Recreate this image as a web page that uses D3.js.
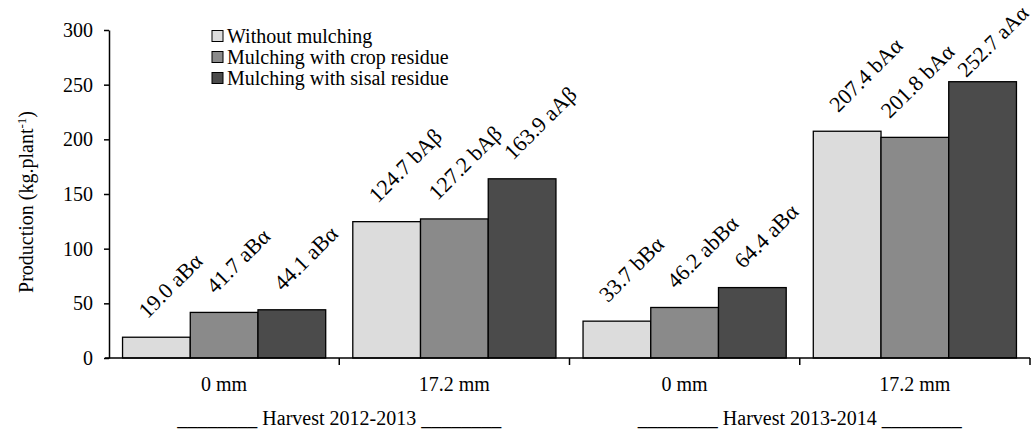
<!DOCTYPE html>
<html>
<head>
<meta charset="utf-8">
<script src="https://cdn.jsdelivr.net/npm/d3@7/dist/d3.min.js"></script>
<style>
  html, body { margin: 0; padding: 0; background: #fff; }
  svg { display: block; }
  text { font-family: "Liberation Serif", "Times New Roman", serif; fill: #000; }
</style>
</head>
<body>
<svg id="chart" width="1035" height="433"></svg>
<script>
// ---- data ----
const categories = ["0 mm", "17.2 mm", "0 mm", "17.2 mm"];
const harvests = ["Harvest 2012-2013", "Harvest 2013-2014"];
const seriesNames = ["Without mulching", "Mulching with crop residue", "Mulching with sisal residue"];
const withoutMulching = [19.0, 124.7, 33.7, 207.4];
const cropResidue = [41.7, 127.2, 46.2, 201.8];
const sisalResidue = [44.1, 163.9, 64.4, 252.7];
const withoutLetters = ["aBα", "bAβ", "bBα", "bAα"];
const cropLetters = ["aBα", "bAβ", "abBα", "bAα"];
const sisalLetters = ["aBα", "aAβ", "aBα", "aAα"];
const yTicks = [0, 50, 100, 150, 200, 250, 300];
const seriesColors = ["#dcdcdc", "#8a8a8a", "#4b4b4b"];

const seriesValues = [withoutMulching, cropResidue, sisalResidue];
const seriesLetters = [withoutLetters, cropLetters, sisalLetters];

const svg = d3.select("#chart");
const W = 1035;
const mLeft = 109, mRight = 1030, mTop = 30, mBottom = 358;

const x0 = d3.scaleBand().domain(d3.range(categories.length)).range([mLeft, mRight]).padding(0);
const bw = x0.bandwidth();
const x1 = d3.scaleBand().domain(d3.range(seriesNames.length)).range([0, bw]).paddingOuter(0.2).paddingInner(0);
const y = d3.scaleLinear().domain([0, 300]).range([mBottom, mTop]);

// bars
const rows = [];
categories.forEach((c, ci) => {
  seriesNames.forEach((s, si) => {
    rows.push({ci, si, v: seriesValues[si][ci], l: seriesLetters[si][ci]});
  });
});

svg.append("g").selectAll("rect").data(rows).join("rect")
  .attr("x", d => x0(d.ci) + x1(d.si))
  .attr("y", d => y(d.v))
  .attr("width", x1.bandwidth())
  .attr("height", d => y(0) - y(d.v))
  .attr("fill", d => seriesColors[d.si])
  .attr("stroke", "#000")
  .attr("stroke-width", 1.3);

// bar labels (rotated, kept inside the picture, no overlaps)
const labels = svg.append("g").selectAll("text").data(rows).join("text")
  .text(d => d.v.toFixed(1) + " " + d.l);
labels.each(function(d) {
  const barTop = y(d.v);
  let fs = 22;
  while (true) {
    d3.select(this).style("font-size", fs + "px");
    d.fs = fs;
    d.half = this.getComputedTextLength() / Math.SQRT2;
    d.cx = x0(d.ci) + x1(d.si) + x1.bandwidth() / 2 - 9;
    d.cy = barTop - 18;
    const overRight = d.cx + d.half + 5 - W;
    if (overRight > 0) d.cx -= overRight;
    const needed = d.half + fs * 0.89 * Math.SQRT1_2 + 1;
    if (d.cy < needed) d.cy = needed;
    if (d.cy > barTop - 3 && fs > 16) { fs -= 0.5; continue; }
    break;
  }
});
// keep parallel diagonal labels at least minGap apart (perpendicular distance)
const minGap = 25;
for (let i = rows.length - 1; i > 0; i--) {
  const a = rows[i - 1], b = rows[i];
  if (a.ci !== b.ci) continue;
  const gap = ((b.cx - a.cx) + (b.cy - a.cy)) / Math.SQRT2;
  if (gap < minGap) a.cx -= (minGap - gap) * Math.SQRT2;
}
labels.attr("transform", d => `translate(${d.cx},${d.cy}) rotate(-45)`);

// y axis
const yAxis = d3.axisLeft(y).tickValues(yTicks).tickSize(5).tickPadding(11).tickSizeOuter(0);
const gy = svg.append("g").attr("transform", `translate(${mLeft},0)`).call(yAxis);
gy.select(".domain").attr("stroke", "#000").attr("stroke-width", 1.5);
gy.selectAll(".tick line").attr("stroke", "#000").attr("stroke-width", 1.5);
gy.selectAll(".tick text").style("font-size", "20px").style("font-family", "Liberation Serif");

// x axis line with boundary ticks
const boundaries = d3.range(categories.length + 1).map(i => i < categories.length ? x0(i) : x0(categories.length - 1) + bw);
svg.append("line").attr("x1", mLeft - 4).attr("x2", mRight).attr("y1", mBottom).attr("y2", mBottom)
  .attr("stroke", "#000").attr("stroke-width", 1.5);
svg.append("g").selectAll("line").data(boundaries.slice(1)).join("line")
  .attr("x1", d => d).attr("x2", d => d).attr("y1", mBottom).attr("y2", mBottom + 7)
  .attr("stroke", "#000").attr("stroke-width", 1.5);

// category labels
svg.append("g").selectAll("text").data(categories).join("text")
  .attr("x", (d, i) => x0(i) + bw / 2)
  .attr("y", 391)
  .attr("text-anchor", "middle")
  .style("font-size", "20px")
  .text(d => d);

// harvest labels
svg.append("g").selectAll("text").data(harvests).join("text")
  .attr("x", (d, i) => x0(i * 2) + bw)
  .attr("y", 425)
  .attr("text-anchor", "middle")
  .style("font-size", "20px")
  .text(d => "________ " + d + " ________");

// y axis title
const yt = svg.append("text")
  .attr("transform", `translate(33,${(mTop + mBottom) / 2 + 8}) rotate(-90)`)
  .attr("text-anchor", "middle")
  .style("font-size", "20px");
yt.append("tspan").text("Production (kg.plant");
yt.append("tspan").attr("dy", -7).style("font-size", "13px").text("-1");
yt.append("tspan").attr("dy", 7).text(")");

// legend
const lg = svg.append("g").attr("transform", "translate(212,0)");
const legendY = [36, 57, 78];
seriesNames.forEach((s, i) => {
  lg.append("rect").attr("x", 0).attr("y", legendY[i] - 5.5).attr("width", 11).attr("height", 11)
    .attr("fill", seriesColors[i]).attr("stroke", "#000").attr("stroke-width", 1);
  lg.append("text").attr("x", 15).attr("y", legendY[i] + 6.5).style("font-size", "20px").text(s);
});
</script>
</body>
</html>
